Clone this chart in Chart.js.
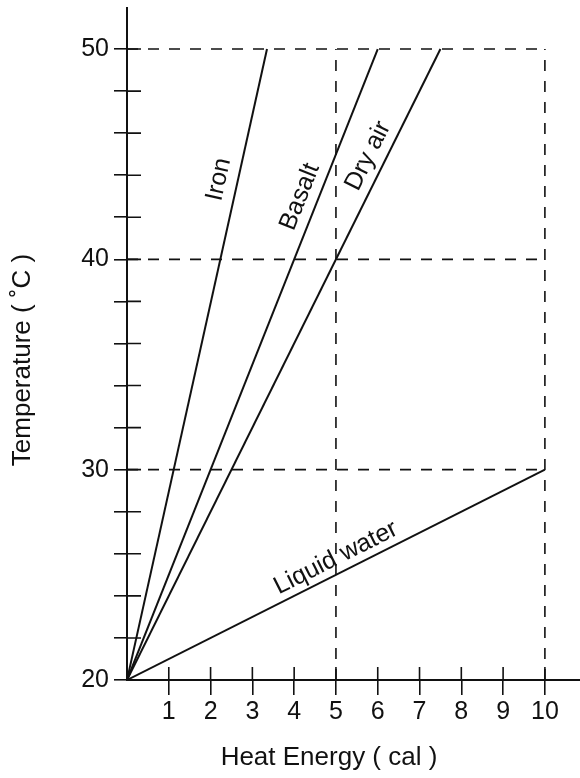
<!DOCTYPE html>
<html>
<head>
<meta charset="utf-8">
<script src="https://cdn.jsdelivr.net/npm/chart.js@4"></script>
<style>
  body { margin: 0; background: #fff; }
  canvas { display: block; }
</style>
</head>
<body>
<canvas id="chart" width="580" height="778"></canvas>
<script>
// series: heat (cal) vs temperature (C)
const ironHeat = [0, 3.35];
const ironTemp = [20, 50];
const basaltHeat = [0, 6];
const basaltTemp = [20, 50];
const dryAirHeat = [0, 7.5];
const dryAirTemp = [20, 50];
const waterHeat = [0, 10];
const waterTemp = [20, 30];

// dashed guides
const guideTemps = [50, 40, 30];
const guideHeatSpan = [0, 10];
const guideHeats = [5, 10];
const guideTempSpan = [20, 50];

// labels along the lines
const lineNames = ['Iron', 'Basalt', 'Dry air', 'Liquid water'];
const labelHeat = [2.2, 4.14, 5.77, 5.0];
const labelTemp = [43.8, 42.97, 44.92, 25.8];

const xTicks = [1, 2, 3, 4, 5, 6, 7, 8, 9, 10];
const yTicks = [20, 22, 24, 26, 28, 30, 32, 34, 36, 38, 40, 42, 44, 46, 48, 50];
const xTitle = 'Heat Energy ( cal )';
const yTitle = 'Temperature ( ˚C )';

const FONT = 'Liberation Sans, Arial, sans-serif';
const INK = '#111';

const pts = (xs, ys) => xs.map((x, i) => ({ x: x, y: ys[i] }));

const solid = (xs, ys) => ({
	data: pts(xs, ys),
	showLine: true,
	borderColor: INK,
	borderWidth: 2,
	pointRadius: 0,
	fill: false
});

const dashed = (data) => ({
	data: data,
	showLine: true,
	borderColor: INK,
	borderWidth: 1.6,
	borderDash: [11, 10],
	pointRadius: 0,
	fill: false
});

const lineSets = [
	solid(ironHeat, ironTemp),
	solid(basaltHeat, basaltTemp),
	solid(dryAirHeat, dryAirTemp),
	solid(waterHeat, waterTemp)
];

const guideSets = [];
guideTemps.forEach(t => guideSets.push(dashed(guideHeatSpan.map(h => ({ x: h, y: t })))));
guideHeats.forEach(h => guideSets.push(dashed(guideTempSpan.map(t => ({ x: h, y: t })))));

// inner half of the crossing ticks
const innerTicks = {
	id: 'innerTicks',
	afterDraw(chart) {
		const ctx = chart.ctx;
		const xs = chart.scales.x, ys = chart.scales.y;
		ctx.save();
		ctx.strokeStyle = INK;
		ctx.lineWidth = 1.6;
		ctx.beginPath();
		ys.ticks.forEach(t => {
			const p = ys.getPixelForValue(t.value);
			ctx.moveTo(ys.right, p);
			ctx.lineTo(ys.right + 14, p);
		});
		xs.ticks.forEach(t => {
			const p = xs.getPixelForValue(t.value);
			ctx.moveTo(p, xs.top);
			ctx.lineTo(p, xs.top - 13);
		});
		ctx.stroke();
		ctx.restore();
	}
};

// rotated series names + axis titles
const textPlugin = {
	id: 'texts',
	afterDraw(chart) {
		const ctx = chart.ctx;
		const xs = chart.scales.x, ys = chart.scales.y;
		ctx.save();
		ctx.fillStyle = INK;
		ctx.font = '25px ' + FONT;
		ctx.textAlign = 'center';
		ctx.textBaseline = 'middle';
		lineSets.forEach((ds, i) => {
			const a = ds.data[0], b = ds.data[ds.data.length - 1];
			const ang = Math.atan2(ys.getPixelForValue(b.y) - ys.getPixelForValue(a.y),
				xs.getPixelForValue(b.x) - xs.getPixelForValue(a.x));
			ctx.save();
			ctx.translate(xs.getPixelForValue(labelHeat[i]), ys.getPixelForValue(labelTemp[i]));
			ctx.rotate(ang);
			ctx.fillText(lineNames[i], 0, 0);
			ctx.restore();
		});
		ctx.font = '26px ' + FONT;
		ctx.fillText(xTitle, 329, 758);
		ctx.translate(23, 360);
		ctx.rotate(-Math.PI / 2);
		ctx.fillText(yTitle, 0, 0);
		ctx.restore();
	}
};

new Chart(document.getElementById('chart'), {
	type: 'scatter',
	data: { datasets: lineSets.concat(guideSets) },
	options: {
		responsive: false,
		animation: false,
		devicePixelRatio: 1,
		layout: { padding: { top: 8, right: 0, left: 0, bottom: 0 } },
		plugins: { legend: { display: false }, tooltip: { enabled: false } },
		scales: {
			x: {
				type: 'linear',
				min: 0,
				max: 10.84,
				afterBuildTicks: s => { s.ticks = xTicks.map(v => ({ value: v })); },
				afterFit: s => { s.height = 98; s.paddingLeft = 0; s.paddingRight = 0; },
				grid: { display: true, drawOnChartArea: false, drawTicks: true, tickLength: 15, color: INK, lineWidth: 1.6 },
				border: { display: true, color: INK, width: 2 },
				ticks: { color: INK, font: { family: FONT, size: 25 }, padding: 2, maxRotation: 0, autoSkip: false }
			},
			y: {
				type: 'linear',
				min: 20,
				max: 51.95,
				afterBuildTicks: s => { s.ticks = yTicks.map(v => ({ value: v })); },
				afterFit: s => { s.width = 127; s.paddingTop = 0; s.paddingBottom = 0; },
				grid: { display: true, drawOnChartArea: false, drawTicks: true, tickLength: 13, color: INK, lineWidth: 1.6 },
				border: { display: true, color: INK, width: 2 },
				ticks: {
					color: INK,
					font: { family: FONT, size: 25 },
					padding: 5,
					autoSkip: false,
					callback: v => (v % 10 === 0 ? v : '')
				}
			}
		}
	},
	plugins: [innerTicks, textPlugin]
});
</script>
</body>
</html>
